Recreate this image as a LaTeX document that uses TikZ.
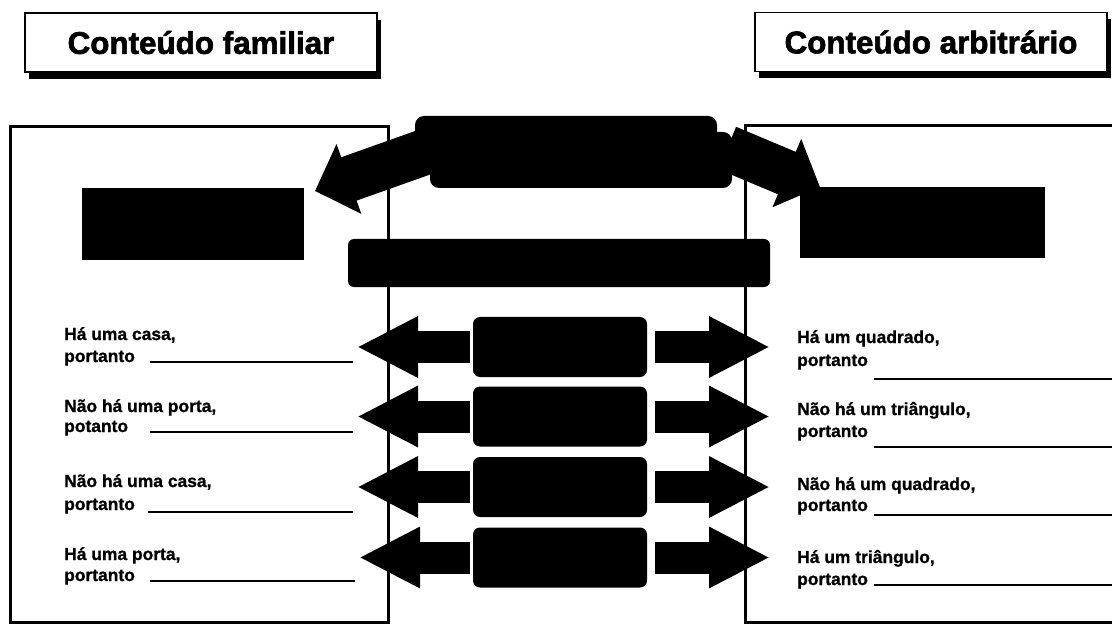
\documentclass[tikz,border=0pt]{standalone}
\usepackage{fontspec}
\setmainfont{Liberation Sans}
\newfontfamily\heavyfont[FakeBold=2]{Liberation Sans Bold}
\newfontfamily\smallheavy[FakeBold=1]{Liberation Sans Bold}
\usetikzlibrary{arrows.meta,shadows,backgrounds}

\begin{document}
\begin{tikzpicture}[x=1bp, y=-1bp,
  titlebox/.style={draw, line width=1.6bp, fill=white, minimum width=352bp, minimum height=59bp, inner sep=0pt,
    font=\fontsize{31.5}{36}\heavyfont,
    drop shadow={shadow xshift=4bp, shadow yshift=-7bp, opacity=1, fill=black}},
  panel/.style={draw, line width=3bp},
  blackbox/.style={fill=black, inner sep=0pt},
  midbox/.style={blackbox, rounded corners=7bp, minimum width=174bp, minimum height=60bp},
  rowarrow/.style={line width=32bp, -{Triangle[length=61bp, width=57bp]}},
  bigarrow/.style={line width=46bp, -{Triangle[length=36bp, width=72bp]}},
  rowtext/.style={anchor=base west, inner sep=0pt, font=\fontsize{17.5}{22}\smallheavy},
  blank/.style={line width=2.5bp}
]
\clip (0,0) rectangle (1112,626);

% the two panels
\draw[panel] (10,127) rectangle (388,622);
\draw[panel] (745,126) rectangle (1130,622);

% boxes in the middle
\node[blackbox, rounded corners=6bp, minimum width=422bp, minimum height=48bp] (strip) at (559,263) {};
\node[midbox] (mid1) at (560,347) {};
\node[midbox] (mid2) at (560,416.5) {};
\node[midbox] (mid3) at (560,487) {};
\node[midbox] (mid4) at (560,557.5) {};

\node[blackbox, minimum width=222bp, minimum height=72bp] (lhead) at (193,224) {};
\node[blackbox, minimum width=245bp, minimum height=71bp] (rhead) at (922.5,222.5) {};

\node[blackbox, rounded corners=9bp, minimum width=302bp, minimum height=56bp,
  drop shadow={shadow xshift=15bp, shadow yshift=-16bp, opacity=1, fill=black}] (top) at (566,144) {};

% arrow ends
\coordinate (ltip) at (315,191);
\coordinate (rtip) at (820,187);
\coordinate (lt1) at (357,347);
\coordinate (lt2) at (357,416.5);
\coordinate (lt3) at (357,487);
\coordinate (lt4) at (359,557.5);
\coordinate (rt1) at (770,347);
\coordinate (rt2) at (770,416.5);
\coordinate (rt3) at (770,487);
\coordinate (rt4) at (770,557.5);

\draw[rowarrow, shorten <=3bp] (mid1) -- (lt1);
\draw[rowarrow, shorten <=3bp] (mid2) -- (lt2);
\draw[rowarrow, shorten <=3bp] (mid3) -- (lt3);
\draw[rowarrow, shorten <=3bp] (mid4) -- (lt4);
\draw[rowarrow, shorten <=8bp] (mid1) -- (rt1);
\draw[rowarrow, shorten <=8bp] (mid2) -- (rt2);
\draw[rowarrow, shorten <=8bp] (mid3) -- (rt3);
\draw[rowarrow, shorten <=8bp] (mid4) -- (rt4);

\begin{scope}[on background layer]
\draw[bigarrow] ([shift={(10,8)}]top.west) -- (ltip);
\draw[bigarrow] ([shift={(10,4)}]top.east) -- (rtip);
\end{scope}

% titles
\node[titlebox] (familiar) at (201,42.5) {Conteúdo familiar};
\node[titlebox] (arbitrary) at (931,42) {Conteúdo arbitrário};

% left sentences
\node[rowtext] (fa1) at (64,340) {Há uma casa,};
\node[rowtext] (fa1b) at (64,362) {portanto};
\node[rowtext] (fa2) at (64,412) {Não há uma porta,};
\node[rowtext] (fa2b) at (64,432) {potanto};
\node[rowtext] (fa3) at (64,487) {Não há uma casa,};
\node[rowtext] (fa3b) at (64,510) {portanto};
\node[rowtext] (fa4) at (64,560) {Há uma porta,};
\node[rowtext] (fa4b) at (64,581) {portanto};
\draw[blank] (150,362) -- (353,362);
\draw[blank] (150,432) -- (353,432);
\draw[blank] (148,512) -- (353,512);
\draw[blank] (150,581) -- (355,581);

% right sentences
\node[rowtext] (ar1) at (797,343) {Há um quadrado,};
\node[rowtext] (ar1b) at (797,366) {portanto};
\node[rowtext] (ar2) at (797,415) {Não há um triângulo,};
\node[rowtext] (ar2b) at (797,437) {portanto};
\node[rowtext] (ar3) at (797,490) {Não há um quadrado,};
\node[rowtext] (ar3b) at (797,511) {portanto};
\node[rowtext] (ar4) at (797,563) {Há um triângulo,};
\node[rowtext] (ar4b) at (797,585) {portanto};
\draw[blank] (874,379) -- (1112,379);
\draw[blank] (874,447) -- (1112,447);
\draw[blank] (874,515) -- (1112,515);
\draw[blank] (874,585) -- (1112,585);
\end{tikzpicture}
\end{document}
